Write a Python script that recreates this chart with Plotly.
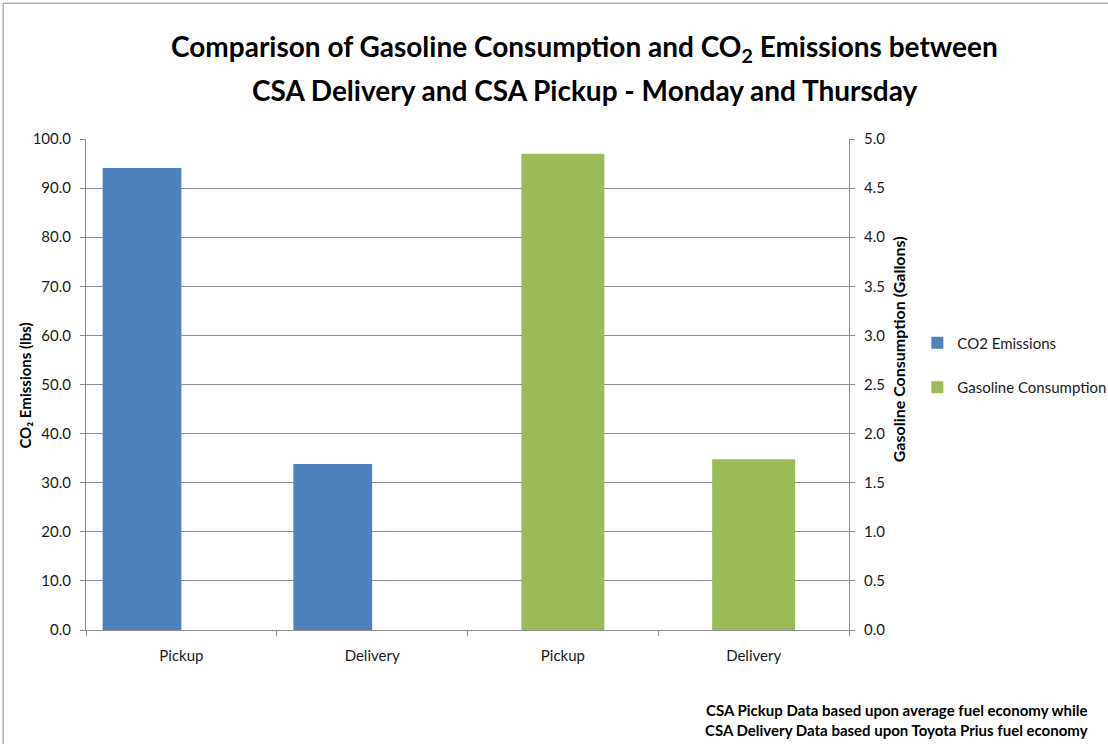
import plotly.graph_objects as go

categories = ["Pickup", "Delivery", "Pickup", "Delivery"]
cat_pos = [0, 1, 2, 3]
co2_emissions = [94.1, 33.8]          # lbs, categories 0-1
gasoline_consumption = [4.85, 1.74]   # gallons, categories 2-3
left_ticks = [0, 10, 20, 30, 40, 50, 60, 70, 80, 90, 100]
right_ticks = [0, 0.5, 1.0, 1.5, 2.0, 2.5, 3.0, 3.5, 4.0, 4.5, 5.0]

BLUE = "#4F81BD"
GREEN = "#9BBB59"
GRID = "#8C8C8C"
FONT = "Lato"

W, H = 1108, 744
L, R, T, B = 86.3, 848.7, 139.2, 629.9

def px(x):
    return (x - L) / (R - L)

def py(y):
    return (B - y) / (B - T)

fig = go.Figure()
fig.add_trace(go.Bar(
    x=cat_pos[:2], y=co2_emissions, name="CO2 Emissions",
    marker=dict(color=BLUE, line=dict(width=0)),
    width=0.413, offset=-0.413, yaxis="y", legendgroup="a",
))
fig.add_trace(go.Bar(
    x=cat_pos[2:], y=gasoline_consumption, name="Gasoline Consumption",
    marker=dict(color=GREEN, line=dict(width=0)),
    width=0.435, offset=-0.2175, yaxis="y2", legendgroup="b",
))

fig.update_layout(
    width=W, height=H,
    margin=dict(l=L, r=W - R, t=T, b=H - B, pad=0, autoexpand=False),
    paper_bgcolor="white", plot_bgcolor="white",
    barmode="overlay",
    font=dict(family=FONT, size=15, color="#1a1a1a"),
    xaxis=dict(
        range=[-0.5, 3.5], tickmode="array", tickvals=cat_pos, ticktext=categories,
        ticks="", showline=True, linecolor=GRID, linewidth=1, showgrid=False,
        zeroline=False, ticklabelstandoff=12,
        minor=dict(tickmode="array", tickvals=[-0.5, 0.5, 1.5, 2.5, 3.5],
                   ticks="outside", ticklen=5, tickcolor=GRID, tickwidth=1, showgrid=False),
        tickfont=dict(size=15),
    ),
    yaxis=dict(
        range=[0, 100], tickmode="array", tickvals=left_ticks,
        ticktext=[f"{v:.1f}" for v in left_ticks],
        showline=True, linecolor=GRID, linewidth=1, ticks="outside", ticklen=5,
        tickcolor=GRID, showgrid=True, gridcolor=GRID, gridwidth=1, zeroline=False,
        ticklabelstandoff=6, tickfont=dict(size=15),
    ),
    yaxis2=dict(
        range=[0, 5], tickmode="array", tickvals=right_ticks,
        ticktext=[f"{v:.1f}" for v in right_ticks],
        overlaying="y", side="right", anchor="x",
        showline=True, linecolor=GRID, linewidth=1, ticks="outside", ticklen=5,
        tickcolor=GRID, showgrid=False, zeroline=False, ticklabelstandoff=6,
        tickfont=dict(size=15),
    ),
    legend=dict(
        x=px(917), y=py(365), xanchor="left", yanchor="middle",
        font=dict(size=15, family=FONT), traceorder="grouped", tracegroupgap=22,
        bgcolor="rgba(0,0,0,0)", itemwidth=30,
    ),
    showlegend=True,
)

annotations = [
    dict(text="Comparison of Gasoline Consumption and CO<sub>2</sub> Emissions between",
         x=px(584), y=py(48), font=dict(size=28, family=FONT, color="black", weight="bold")),
    dict(text="CSA Delivery and CSA Pickup - Monday and Thursday",
         x=px(584), y=py(90), font=dict(size=28, family=FONT, color="black", weight="bold")),
    dict(text="CO₂ Emissions (lbs)", x=px(25), y=py(386), textangle=-90,
         font=dict(size=15, family=FONT, color="black", weight="bold")),
    dict(text="Gasoline Consumption (Gallons)", x=px(899), y=py(349), textangle=-90,
         font=dict(size=16, family=FONT, color="black", weight="bold")),
    dict(text="CSA Pickup Data based upon average fuel economy while<br>CSA Delivery Data based upon Toyota Prius fuel economy",
         x=px(1090), y=py(720), xanchor="right", align="right",
         font=dict(size=15, family=FONT, color="black", weight="bold")),
]
for a in annotations:
    a.setdefault("xanchor", "center")
    a.update(xref="paper", yref="paper", yanchor="middle", showarrow=False)
fig.update_layout(annotations=annotations)

fig.add_shape(type="rect", xref="paper", yref="paper",
              x0=px(3.5), x1=px(1200), y0=py(900), y1=py(3.5),
              line=dict(color="#868686", width=1), fillcolor="rgba(0,0,0,0)", layer="below")

fig.write_html("out.html")
